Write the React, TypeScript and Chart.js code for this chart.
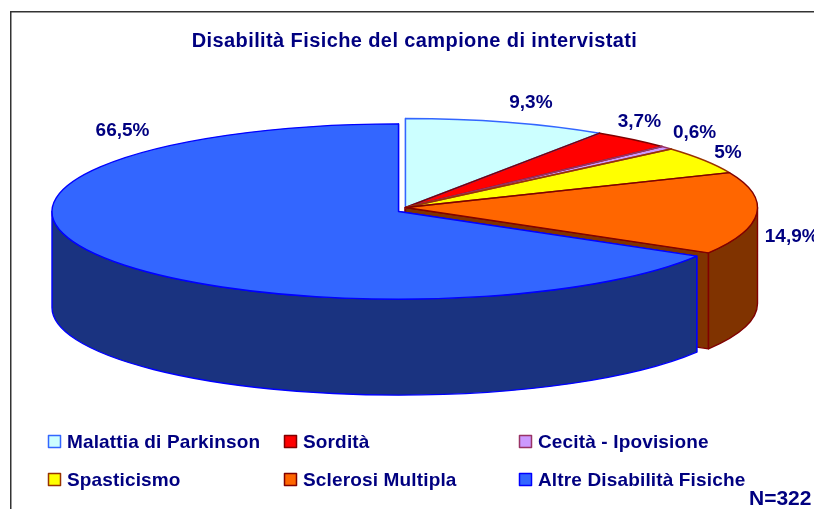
import React, { useEffect, useRef } from "react";
import { Chart, registerables } from "chart.js";

Chart.register(...registerables);

const titleText = "Disabilità Fisiche del campione di intervistati";
const categories = ["Malattia di Parkinson", "Sordità", "Cecità - Ipovisione", "Spasticismo", "Sclerosi Multipla", "Altre Disabilità Fisiche"];
const shares = [9.3, 3.7, 0.6, 5, 14.9, 66.5];
const sampleNote = "N=322";
const fillColors = ["#ccffff", "#ff0000", "#cc99ff", "#ffff00", "#ff6600", "#3366ff"];
const edgeColors = ["#3366ff", "#800000", "#993366", "#993300", "#800000", "#0000ff"];
const wallColors = ["#668080", "#800000", "#664d80", "#808000", "#803300", "#1a3380"];

const FONT = '"Liberation Sans", Arial, sans-serif';
const NAVY = "#000080";
const K = 0.253; // ellipse squash
const DEPTH = 96;
const TX = 405.5;
const TY = 207.5;
const RADIUS = 352;
const explode: [number, number, number][] = [[0, 0, 0], [0, 0, 0], [0, 0, 0], [0, 0, 0], [0, 0, 0], [-7, 4, -5.5]];
const labelNudge: [number, number][] = [[24, -19], [7, -18], [28, -15], [24, -7], [35, 23], [25, -124]];
const legendCols = [48, 284, 519];
const legendRows = [442, 480];

function screen(arc: any, c: { x: number; y: number }) {
  return { x: TX + (arc.x - c.x), y: TY + (arc.y - c.y) * K, rx: arc.outerRadius, ry: arc.outerRadius * K };
}

const pie3d = {
  id: "pie3d",
  beforeDraw(chart: any) {
    const { ctx } = chart;
    ctx.save();
    ctx.strokeStyle = "#333333";
    ctx.lineWidth = 1.5;
    ctx.beginPath();
    ctx.moveTo(10.75, 520);
    ctx.lineTo(10.75, 11.75);
    ctx.lineTo(830, 11.75);
    ctx.stroke();
    ctx.restore();
    ctx.letterSpacing = "0.4px";
  },
  afterDatasetsUpdate(chart: any) {
    const arcs = chart.getDatasetMeta(0).data;
    const a = chart.chartArea;
    const c = { x: (a.left + a.right) / 2, y: (a.top + a.bottom) / 2 };
    chart.$center = c;
    arcs.forEach((arc: any, i: number) => {
      arc.x = c.x + explode[i][0];
      arc.y = c.y + explode[i][1] / K;
      arc.outerRadius = RADIUS + explode[i][2];
    });
  },
  beforeDatasetsDraw(chart: any) {
    const { ctx } = chart;
    ctx.letterSpacing = "0px";
    const arcs = chart.getDatasetMeta(0).data;
    const c = chart.$center;
    ctx.save();
    ctx.lineWidth = 1.4;
    ctx.lineJoin = "round";
    arcs.forEach((arc: any, i: number) => {
      const s = screen(arc, c);
      ctx.fillStyle = wallColors[i];
      ctx.strokeStyle = edgeColors[i];
      [arc.startAngle, arc.endAngle].forEach((ang: number) => {
        const ex = s.x + Math.cos(ang) * s.rx;
        const ey = s.y + Math.sin(ang) * s.ry;
        ctx.beginPath();
        ctx.moveTo(s.x, s.y);
        ctx.lineTo(ex, ey);
        ctx.lineTo(ex, ey + DEPTH);
        ctx.lineTo(s.x, s.y + DEPTH);
        ctx.closePath();
        ctx.fill();
        ctx.stroke();
      });
      const a0 = Math.max(arc.startAngle, 0);
      const a1 = Math.min(arc.endAngle, Math.PI);
      if (a1 > a0) {
        ctx.beginPath();
        ctx.ellipse(s.x, s.y, s.rx, s.ry, 0, a0, a1);
        ctx.ellipse(s.x, s.y + DEPTH, s.rx, s.ry, 0, a1, a0, true);
        ctx.closePath();
        ctx.fill();
        ctx.stroke();
      }
    });
    ctx.restore();
    ctx.save();
    ctx.translate(TX, TY);
    ctx.scale(1, K);
    ctx.translate(-c.x, -c.y);
  },
  afterDatasetsDraw(chart: any) {
    const { ctx } = chart;
    ctx.restore();
    const arcs = chart.getDatasetMeta(0).data;
    const c = chart.$center;
    ctx.save();
    ctx.lineWidth = 1.4;
    ctx.lineJoin = "round";
    arcs.forEach((arc: any, i: number) => {
      const s = screen(arc, c);
      ctx.strokeStyle = edgeColors[i];
      ctx.beginPath();
      ctx.moveTo(s.x, s.y);
      ctx.ellipse(s.x, s.y, s.rx, s.ry, 0, arc.startAngle, arc.endAngle);
      ctx.closePath();
      ctx.stroke();
    });
    ctx.fillStyle = NAVY;
    ctx.font = `bold 19px ${FONT}`;
    ctx.textAlign = "center";
    ctx.textBaseline = "middle";
    arcs.forEach((arc: any, i: number) => {
      const s = screen(arc, c);
      const mid = (arc.startAngle + arc.endAngle) / 2;
      const text = String(shares[i]).replace(".", ",") + "%";
      ctx.fillText(text, s.x + Math.cos(mid) * s.rx + labelNudge[i][0], s.y + Math.sin(mid) * s.ry + labelNudge[i][1]);
    });
    ctx.textAlign = "left";
    ctx.letterSpacing = "0.15px";
    categories.forEach((name, i) => {
      const x = legendCols[i % 3];
      const y = legendRows[Math.floor(i / 3)];
      ctx.fillStyle = fillColors[i];
      ctx.strokeStyle = edgeColors[i];
      ctx.lineWidth = 1.5;
      ctx.fillRect(x + 0.5, y - 6.5, 12, 12);
      ctx.strokeRect(x + 0.5, y - 6.5, 12, 12);
      ctx.fillStyle = NAVY;
      ctx.fillText(name, x + 19, y + 1);
    });
    ctx.letterSpacing = "0px";
    ctx.font = `bold 21px ${FONT}`;
    ctx.fillText(sampleNote, 749, 499);
    ctx.restore();
  },
};

export default function App() {
  const ref = useRef<HTMLCanvasElement>(null);
  useEffect(() => {
    const chart = new Chart(ref.current as HTMLCanvasElement, {
      type: "pie",
      data: {
        labels: categories,
        datasets: [{ data: shares, backgroundColor: fillColors, borderColor: edgeColors, borderWidth: 0, clip: false } as any],
      },
      options: {
        responsive: false,
        animation: false,
        radius: RADIUS,
        layout: { padding: { left: 15, top: 0 } },
        plugins: {
          legend: { display: false },
          tooltip: { enabled: false },
          title: {
            display: true,
            text: titleText,
            color: NAVY,
            font: { family: FONT, size: 20, weight: "bold" },
            padding: { top: 29, bottom: 10 },
          },
        },
      } as any,
      plugins: [pie3d],
    });
    return () => chart.destroy();
  }, []);
  return (
    <div style={{ position: "fixed", left: 0, top: 0, width: 814, height: 509, overflow: "hidden", background: "#fff" }}>
      <canvas ref={ref} width={814} height={509} style={{ display: "block" }} />
    </div>
  );
}
